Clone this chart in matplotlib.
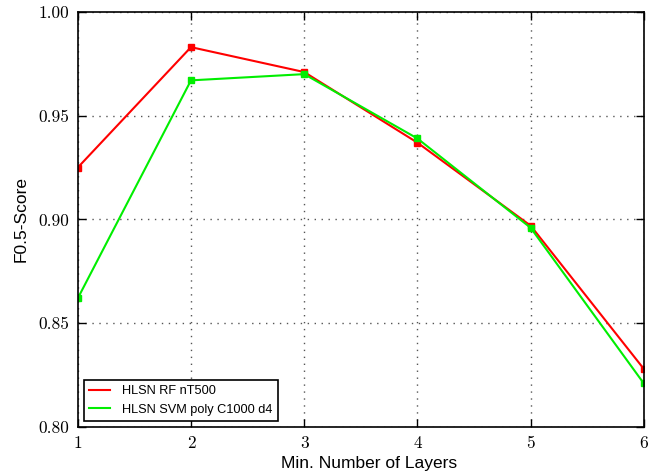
import matplotlib
matplotlib.use("Agg")
import matplotlib.pyplot as plt
from matplotlib.lines import Line2D

layers = [1, 2, 3, 4, 5, 6]
rf_scores = [0.925, 0.983, 0.971, 0.937, 0.897, 0.828]
svm_scores = [0.862, 0.967, 0.970, 0.939, 0.896, 0.821]
yticks = [0.80, 0.85, 0.90, 0.95, 1.00]
names = ["HLSN RF nT500", "HLSN SVM poly C1000 d4"]
colors = ["#ff0000", "#00ee00"]

fig = plt.figure(figsize=(6.59, 4.74), dpi=100)
ax = fig.add_axes([0.118, 0.099, 0.859, 0.876])

for ys, c, n in zip([rf_scores, svm_scores], colors, names):
    ax.plot(layers, ys, color=c, lw=1.5, marker="s", ms=4, mec=c, label=n)

ax.set_xlim(1, 6)
ax.set_ylim(0.80, 1.00)
ax.set_yticks(yticks)
ax.set_yticklabels(["%.2f" % v for v in yticks])
ax.grid(True, color="#555555", linestyle=(0, (1, 4)), linewidth=1)
ax.tick_params(direction="in", length=6, width=1, top=True, right=True, pad=6)
for lab in ax.get_xticklabels() + ax.get_yticklabels():
    lab.set_fontfamily("cmr10")
    lab.set_fontsize(12.5)
for s in ax.spines.values():
    s.set_linewidth(1.2)

ax.set_xlabel("Min. Number of Layers", fontsize=12.5, family="Liberation Sans", labelpad=2)
ax.xaxis.set_label_coords(0.514, -0.07)
ax.set_ylabel("F0.5-Score", fontsize=12.5, family="Liberation Sans", labelpad=7)

handles = [Line2D([], [], color=c, lw=1.5) for c in colors]
leg = ax.legend(handles, names, loc="lower left", prop={"family": "Liberation Sans", "size": 9.2},
                fancybox=False, edgecolor="black", framealpha=1, borderaxespad=0.5,
                handlelength=1.6, handletextpad=1.0)
leg.get_frame().set_linewidth(1.2)

fig.savefig("out.png", dpi=100)
